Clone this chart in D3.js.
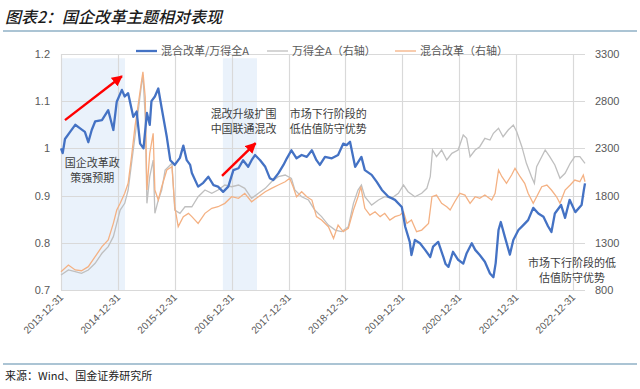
<!DOCTYPE html>
<html>
<head>
<meta charset="utf-8">
<script src="https://cdn.jsdelivr.net/npm/d3@7"></script>
<style>
body { margin: 0; background: #fff; }
svg text { font-family: "Noto Sans CJK SC", "Noto Sans", sans-serif; }
</style>
</head>
<body>
<svg id="chart" width="640" height="389"></svg>
<script>
// values; dates as decimal years (2014.00 = 2013-12-31)
var ratioSeries = [
  [2014.00,1.000],[2014.03,0.990],[2014.07,1.020],[2014.16,1.035],[2014.25,1.050],[2014.33,1.043],
  [2014.42,1.035],[2014.48,1.013],[2014.54,1.039],[2014.60,1.057],[2014.72,1.060],[2014.83,1.081],
  [2014.92,1.039],[2014.98,1.099],[2015.07,1.124],[2015.12,1.110],[2015.18,1.117],[2015.27,1.067],
  [2015.33,1.078],[2015.39,1.010],[2015.45,1.000],[2015.51,1.075],[2015.56,1.050],[2015.59,1.100],
  [2015.65,1.110],[2015.71,1.127],[2015.77,1.085],[2015.86,1.024],[2015.92,0.975],[2016.00,0.965],
  [2016.09,0.980],[2016.15,1.006],[2016.21,0.975],[2016.27,0.965],[2016.30,0.948],[2016.41,0.919],
  [2016.50,0.927],[2016.59,0.940],[2016.68,0.922],[2016.76,0.919],[2016.85,0.908],[2016.94,0.919],
  [2017.03,0.954],[2017.12,0.958],[2017.20,0.975],[2017.29,0.961],[2017.35,0.975],[2017.41,0.986],
  [2017.50,0.975],[2017.59,0.961],[2017.67,0.937],[2017.73,0.933],[2017.82,0.947],[2017.91,0.965],
  [2017.97,0.979],[2018.05,0.996],[2018.14,0.979],[2018.23,0.986],[2018.32,0.982],[2018.41,0.996],
  [2018.49,0.975],[2018.55,0.965],[2018.64,0.982],[2018.76,0.979],[2018.87,0.986],[2018.96,1.010],
  [2019.02,1.007],[2019.08,1.014],[2019.17,0.961],[2019.28,0.982],[2019.34,0.954],[2019.46,0.944],
  [2019.55,0.929],[2019.64,0.912],[2019.75,0.898],[2019.87,0.891],[2019.99,0.876],[2020.05,0.834],
  [2020.13,0.802],[2020.16,0.774],[2020.22,0.806],[2020.31,0.799],[2020.40,0.785],[2020.49,0.770],
  [2020.54,0.792],[2020.63,0.802],[2020.72,0.770],[2020.76,0.755],[2020.81,0.749],[2020.89,0.781],
  [2020.98,0.764],[2021.07,0.756],[2021.13,0.778],[2021.22,0.799],[2021.28,0.785],[2021.36,0.774],
  [2021.45,0.760],[2021.54,0.735],[2021.60,0.727],[2021.64,0.757],[2021.69,0.827],[2021.73,0.844],
  [2021.80,0.813],[2021.89,0.775],[2021.95,0.806],[2022.04,0.827],[2022.13,0.838],[2022.21,0.848],
  [2022.30,0.874],[2022.39,0.862],[2022.48,0.855],[2022.56,0.835],[2022.62,0.823],[2022.68,0.862],
  [2022.79,0.880],[2022.86,0.853],[2022.94,0.891],[2023.04,0.865],[2023.15,0.880],[2023.19,0.912],
  [2023.21,0.926]
];

var windA = [
  [2014.00,959],[2014.13,1012],[2014.25,994],[2014.36,977],[2014.48,1012],[2014.60,1083],
  [2014.72,1189],[2014.83,1259],[2014.92,1365],[2014.98,1506],[2015.04,1647],[2015.12,1718],
  [2015.18,1859],[2015.24,2142],[2015.30,2424],[2015.36,2707],[2015.41,2954],[2015.44,3077],
  [2015.48,2636],[2015.51,1718],[2015.56,2000],[2015.62,2177],[2015.65,1612],[2015.71,1753],
  [2015.77,1859],[2015.83,2071],[2015.89,2106],[2015.95,2142],[2016.00,1647],[2016.09,1612],
  [2016.18,1682],[2016.30,1682],[2016.41,1788],[2016.53,1859],[2016.65,1824],[2016.76,1859],
  [2016.88,1912],[2017.00,1894],[2017.12,1912],[2017.23,1877],[2017.35,1771],[2017.47,1824],
  [2017.59,1877],[2017.70,1947],[2017.82,2000],[2017.94,2018],[2018.05,1983],[2018.11,1859],
  [2018.23,1788],[2018.35,1753],[2018.46,1647],[2018.58,1577],[2018.70,1488],[2018.82,1435],
  [2018.93,1418],[2019.05,1471],[2019.14,1718],[2019.22,1859],[2019.28,1912],[2019.34,1788],
  [2019.46,1700],[2019.58,1753],[2019.69,1788],[2019.81,1771],[2019.93,1824],[2020.02,1912],
  [2020.10,1841],[2020.22,1788],[2020.34,1824],[2020.43,1877],[2020.49,2000],[2020.53,2283],
  [2020.60,2212],[2020.69,2283],[2020.78,2177],[2020.87,2248],[2020.98,2283],[2021.07,2442],
  [2021.13,2407],[2021.19,2212],[2021.28,2283],[2021.36,2318],[2021.45,2407],[2021.54,2389],
  [2021.60,2460],[2021.69,2513],[2021.77,2424],[2021.86,2495],[2021.95,2548],[2022.01,2477],
  [2022.10,2318],[2022.18,2142],[2022.27,2000],[2022.32,1930],[2022.36,2106],[2022.42,2177],
  [2022.51,2283],[2022.59,2212],[2022.68,2124],[2022.77,1983],[2022.86,2036],[2022.95,2142],
  [2023.03,2212],[2023.12,2212],[2023.21,2142]
];

var mixedReform = [
  [2014.00,994],[2014.13,1065],[2014.25,1012],[2014.36,1004],[2014.48,1047],[2014.60,1153],
  [2014.72,1259],[2014.83,1330],[2014.92,1506],[2014.98,1647],[2015.04,1718],[2015.12,1824],
  [2015.18,1930],[2015.24,2212],[2015.30,2530],[2015.36,2777],[2015.41,2989],[2015.44,3112],
  [2015.48,2848],[2015.51,1859],[2015.56,2248],[2015.62,2460],[2015.65,1859],[2015.71,1753],
  [2015.77,1894],[2015.86,2071],[2015.95,2106],[2016.00,1682],[2016.06,1471],[2016.15,1577],
  [2016.24,1612],[2016.30,1577],[2016.41,1506],[2016.53,1612],[2016.65,1665],[2016.76,1682],
  [2016.88,1718],[2017.00,1788],[2017.12,1771],[2017.23,1824],[2017.35,1735],[2017.47,1788],
  [2017.59,1841],[2017.70,1877],[2017.82,1912],[2017.94,1947],[2018.02,1983],[2018.08,1894],
  [2018.14,1788],[2018.23,1841],[2018.32,1788],[2018.41,1753],[2018.49,1577],[2018.58,1541],
  [2018.70,1471],[2018.79,1347],[2018.87,1488],[2018.96,1418],[2019.05,1453],[2019.14,1647],
  [2019.22,1788],[2019.27,1894],[2019.34,1665],[2019.43,1594],[2019.52,1629],[2019.61,1577],
  [2019.69,1612],[2019.78,1541],[2019.87,1577],[2019.96,1594],[2020.02,1629],[2020.08,1506],
  [2020.16,1541],[2020.25,1418],[2020.34,1435],[2020.46,1506],[2020.52,1788],[2020.60,1806],
  [2020.69,1718],[2020.78,1682],[2020.84,1647],[2020.92,1735],[2021.01,1824],[2021.10,1806],
  [2021.19,1718],[2021.28,1788],[2021.36,1771],[2021.45,1806],[2021.57,1753],[2021.63,1824],
  [2021.69,2071],[2021.75,2000],[2021.83,1930],[2021.92,2018],[2021.98,2089],[2022.07,2000],
  [2022.15,1930],[2022.21,1824],[2022.30,1718],[2022.36,1788],[2022.45,1894],[2022.54,1912],
  [2022.62,1859],[2022.71,1788],[2022.77,1718],[2022.86,1859],[2022.95,1912],[2023.03,1965],
  [2023.12,1947],[2023.18,2018],[2023.21,1947]
];

var xTickLabels = ["2013-12-31","2014-12-31","2015-12-31","2016-12-31","2017-12-31",
  "2018-12-31","2019-12-31","2020-12-31","2021-12-31","2022-12-31"];
var leftTicks = [0.7, 0.8, 0.9, 1, 1.1, 1.2];
var rightTicks = [800, 1300, 1800, 2300, 2800, 3300];
var legendNames = ["混合改革/万得全A", "万得全A（右轴）", "混合改革（右轴）"];

// highlighted periods [start, end] and arrows [x0, y0, x1, y1] in left-axis units
var shadePeriods = [[2014.00, 2015.125], [2016.845, 2017.445]];
var shadeTop = 1.191;
var arrows = [[2014.07, 1.060, 2015.07, 1.153], [2016.83, 0.942, 2017.42, 1.011]];
var notes = [
  {t: 2014.55, v: 0.961, anchor: "middle", lines: ["国企改革政", "策强预期"]},
  {t: 2016.63, v: 1.064, anchor: "start", lines: ["混改升级扩围", "中国联通混改"]},
  {t: 2018.02, v: 1.064, anchor: "start", lines: ["市场下行阶段的", "低估值防守优势"]},
  {t: 2022.98, v: 0.749, anchor: "middle", lines: ["市场下行阶段的低", "估值防守优势"]}
];

function toDate(y) {
  var base = new Date(2013, 11, 31);
  return new Date(base.getTime() + (y - 2014) * 365.25 * 864e5);
}

var svg = d3.select("#chart");
var parse = d3.timeParse("%Y-%m-%d");

var plotLeft = 61, plotRight = 585, plotTop = 54, plotBottom = 290;
var x = d3.scaleTime().domain([toDate(2014), toDate(2023.21)]).range([plotLeft, plotRight]);
var yL = d3.scaleLinear().domain([0.7, 1.2]).range([plotBottom, plotTop]);
var yR = d3.scaleLinear().domain([800, 3300]).range([plotBottom, plotTop]);

// title
svg.append("text")
  .attr("x", 5).attr("y", 23)
  .style("font-size", "16px").style("font-style", "italic").style("font-weight", "500")
  .attr("fill", "#1a1a1a")
  .text("图表2：国企改革主题相对表现");
svg.append("line")
  .attr("x1", 3).attr("x2", 637).attr("y1", 31).attr("y2", 31)
  .attr("stroke", "#8fb0c6").attr("stroke-width", 1.5);

// shaded periods
svg.selectAll("rect.shade")
  .data(shadePeriods)
  .enter().append("rect")
  .attr("class", "shade")
  .attr("x", function(d){ return x(toDate(d[0])); })
  .attr("width", function(d){ return x(toDate(d[1])) - x(toDate(d[0])); })
  .attr("y", yL(shadeTop))
  .attr("height", plotBottom - yL(shadeTop))
  .attr("fill", "#eaf2fb");

// grid
svg.append("g").selectAll("line")
  .data(leftTicks)
  .enter().append("line")
  .attr("x1", plotLeft).attr("x2", plotRight)
  .attr("y1", function(d){ return Math.round(yL(d)) + 0.5; })
  .attr("y2", function(d){ return Math.round(yL(d)) + 0.5; })
  .attr("stroke", "#d9d9d9").attr("stroke-width", 1.2);

svg.append("g").selectAll("line")
  .data(xTickLabels)
  .enter().append("line")
  .attr("x1", function(d){ return Math.round(x(parse(d))) + 0.5; })
  .attr("x2", function(d){ return Math.round(x(parse(d))) + 0.5; })
  .attr("y1", plotTop).attr("y2", plotBottom)
  .attr("stroke", "#d9d9d9").attr("stroke-width", 1.2);

// axes
var axisL = d3.axisLeft(yL).tickValues(leftTicks).tickSize(0).tickPadding(11)
  .tickFormat(function(d){ return String(d); });
var gL = svg.append("g").attr("transform", "translate(" + plotLeft + ",0)").call(axisL);
var axisR = d3.axisRight(yR).tickValues(rightTicks).tickSize(0).tickPadding(10)
  .tickFormat(d3.format("d"));
var gR = svg.append("g").attr("transform", "translate(" + plotRight + ",0)").call(axisR);
[gL, gR].forEach(function(g){
  g.select(".domain").remove();
  g.selectAll("text").attr("fill", "#595959").style("font-size", "11px")
    .style("font-family", "\"Liberation Sans\", Arial, sans-serif");
});

svg.append("g").selectAll("text")
  .data(xTickLabels)
  .enter().append("text")
  .attr("transform", function(d){
    return "translate(" + (x(parse(d)) + 3) + "," + (plotBottom + 8) + ") rotate(-45)";
  })
  .attr("text-anchor", "end")
  .attr("fill", "#595959")
  .style("font-size", "10px")
  .style("font-family", "\"Liberation Sans\", Arial, sans-serif")
  .text(function(d){ return d; });

// lines
var lineR = d3.line()
  .x(function(d){ return x(toDate(d[0])); })
  .y(function(d){ return yR(d[1]); });
var lineL = d3.line()
  .x(function(d){ return x(toDate(d[0])); })
  .y(function(d){ return yL(d[1]); });

svg.append("path").datum(windA).attr("d", lineR)
  .attr("fill", "none").attr("stroke", "#bfbfbf").attr("stroke-width", 1.3);
svg.append("path").datum(mixedReform).attr("d", lineR)
  .attr("fill", "none").attr("stroke", "#f4b183").attr("stroke-width", 1.3);
svg.append("path").datum(ratioSeries).attr("d", lineL)
  .attr("fill", "none").attr("stroke", "#4472c4").attr("stroke-width", 2.3)
  .attr("stroke-linejoin", "round");

// arrows
var defs = svg.append("defs");
defs.append("marker")
  .attr("id", "arrowhead")
  .attr("viewBox", "0 0 10 10").attr("refX", 9).attr("refY", 5)
  .attr("markerWidth", 4.5).attr("markerHeight", 4.5)
  .attr("orient", "auto")
  .append("path").attr("d", "M0,0L10,5L0,10z").attr("fill", "#ff0000");

svg.selectAll("line.arrow")
  .data(arrows)
  .enter().append("line")
  .attr("class", "arrow")
  .attr("x1", function(d){ return x(toDate(d[0])); })
  .attr("y1", function(d){ return yL(d[1]); })
  .attr("x2", function(d){ return x(toDate(d[2])); })
  .attr("y2", function(d){ return yL(d[3]); })
  .attr("stroke", "#ff0000").attr("stroke-width", 2.4)
  .attr("marker-end", "url(#arrowhead)");

// annotations
notes.forEach(function(n){
  var t = svg.append("text")
    .attr("x", x(toDate(n.t))).attr("y", yL(n.v))
    .attr("text-anchor", n.anchor)
    .attr("fill", "#404040").style("font-size", "11px");
  n.lines.forEach(function(s, i){
    t.append("tspan").attr("x", x(toDate(n.t))).attr("dy", i ? 15 : 0).text(s);
  });
});

// legend
var legendColors = ["#4472c4", "#bfbfbf", "#f4b183"];
var legendWidths = [2.3, 1.3, 1.3];
var legendX = [136, 267, 395];
var lg = svg.append("g").selectAll("g")
  .data(legendNames)
  .enter().append("g")
  .attr("transform", function(d, i){ return "translate(" + legendX[i] + ",51)"; });
lg.append("line").attr("x1", 0).attr("x2", 21)
  .attr("stroke", function(d, i){ return legendColors[i]; })
  .attr("stroke-width", function(d, i){ return legendWidths[i]; });
lg.append("text").attr("x", 25).attr("y", 4)
  .attr("fill", "#595959").style("font-size", "11px")
  .text(function(d){ return d; });

// footer
svg.append("line")
  .attr("x1", 3).attr("x2", 637).attr("y1", 364).attr("y2", 364)
  .attr("stroke", "#8fb0c6").attr("stroke-width", 1.5);
svg.append("text")
  .attr("x", 5).attr("y", 380)
  .attr("fill", "#222").style("font-size", "11px")
  .text("来源：Wind、国金证券研究所");
</script>
</body>
</html>
